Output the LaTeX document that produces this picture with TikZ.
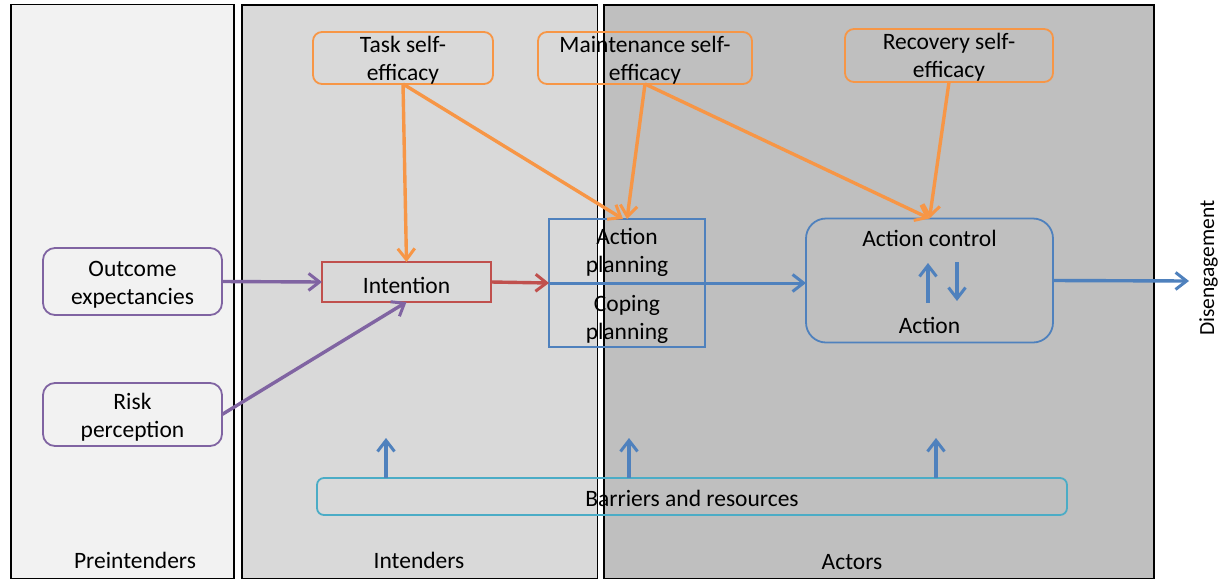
\documentclass[tikz,border=0pt]{standalone}
\usepackage{fontspec}
\setmainfont{Carlito}
\usetikzlibrary{arrows.meta}
\definecolor{orng}{HTML}{F79646}
\definecolor{purp}{HTML}{8064A2}
\definecolor{redd}{HTML}{C0504D}
\definecolor{blu}{HTML}{4F81BD}
\definecolor{cyn}{HTML}{4BACC6}
\definecolor{panA}{HTML}{F2F2F2}
\definecolor{panB}{HTML}{D9D9D9}
\definecolor{panC}{HTML}{BFBFBF}
\tikzset{
  panel/.style={draw=black, line width=1.5pt},
  box/.style={draw, line width=1.8pt, inner sep=0pt, outer sep=0pt},
  rbox/.style={box, rounded corners=9pt},
  lbl/.style={inner sep=0pt, align=center, font=\fontsize{23.5}{28}\selectfont},
  arr/.style={line width=3.4pt, -{Straight Barb[length=11pt,width=17pt,line width=3pt]}},
}
\begin{document}
\begin{tikzpicture}[x=1pt,y=-1pt]
\useasboundingbox (0,0) rectangle (1219,579);
\fill[white] (0,0) rectangle (1219,579);
% panels
\fill[panA] (11,4.5) rectangle (234,578.5);
\draw[panel] (11,4.5) rectangle (234,578.5);
\fill[panB] (242,5) rectangle (597.5,578.5);
\draw[panel] (242,5) rectangle (597.5,578.5);
\fill[panC] (604,5) rectangle (1154,578.5);
\draw[panel] (604,5) rectangle (1154,578.5);
\node[lbl] (pre) at (135,560.5) {Preintenders};
\node[lbl] (int) at (419,560.5) {Intenders};
\node[lbl] (act) at (852,562.5) {Actors};
% boxes
\node[rbox, draw=orng, minimum width=180pt, minimum height=52pt] (task) at (403,58) {};
\node[lbl] (taskt) at (403,60.5) {Task self-\\efficacy};
\node[rbox, draw=orng, minimum width=214pt, minimum height=52pt] (maint) at (645,58) {};
\node[lbl] (maintt) at (645,60.5) {Maintenance self-\\efficacy};
\node[rbox, draw=orng, minimum width=208pt, minimum height=53pt] (recov) at (949,55.5) {};
\node[lbl] (recovt) at (949,57.5) {Recovery self-\\efficacy};
\node[rbox, draw=purp, rounded corners=12pt, minimum width=179pt, minimum height=67pt] (outc) at (132.5,281.5) {};
\node[lbl] (outct) at (132.5,284.5) {Outcome\\expectancies};
\node[rbox, draw=purp, rounded corners=12pt, minimum width=179pt, minimum height=63pt] (risk) at (132.5,414.5) {};
\node[lbl] (riskt) at (132.5,417.5) {Risk\\perception};
\node[box, draw=redd, minimum width=169pt, minimum height=40pt] (intent) at (406.5,282) {};
\node[lbl] (intentt) at (406.5,285.5) {Intention};
\node[box, draw=blu, minimum width=156pt, minimum height=128pt] (plan) at (627,283) {};
\node[lbl] (plant) at (627,252.5) {Action\\planning};
\node[lbl] (copet) at (627,319.5) {Coping\\planning};
\node[rbox, draw=blu, rounded corners=20pt, minimum width=247pt, minimum height=124pt] (actc) at (929.5,280.5) {};
\node[lbl] (actct) at (929.5,238.5) {Action control};
\node[lbl] (actt) at (929.5,325.5) {Action};
\node[rbox, draw=cyn, rounded corners=7pt, minimum width=750pt, minimum height=37pt] (barr) at (692,496.5) {};
\node[lbl] (barrt) at (692,498.5) {Barriers and resources};
\node[lbl, font=\fontsize{21.5}{25}\selectfont, rotate=90, anchor=base east] (dist) at (1214,200) {Disengagement};
\coordinate (dis) at (1189,281);
% inner arrows
\coordinate (u1) at (928,303);
\coordinate (u2) at (928,263);
\coordinate (d1) at (957,262);
\coordinate (d2) at (957,301);
\coordinate (b1) at (386,438);
\coordinate (b2) at (629,438);
\coordinate (b3) at (936,438);
% connectors
\draw[arr, purp] (outc.east) -- (intent.west);
\draw[arr, purp] (risk.east) -- (intent.south);
\draw[arr, orng] (task.south) -- (intent.north);
\draw[arr, orng] (task.south) -- ([xshift=-4pt]plan.north);
\draw[arr, orng] (maint.south) -- (plan.north);
\draw[arr, orng] (maint.south) -- (actc.north);
\draw[arr, orng] (recov.south) -- (actc.north);
\draw[arr, redd] (intent.east) -- (plan.west);
\draw[arr, blu, line width=3pt] (plan.west) -- (plan.west -| actc.west);
\draw[arr, blu] (actc.east) -- (dis);
\draw[arr, blu] (u1) -- (u2);
\draw[arr, blu] (d1) -- (d2);
\draw[arr, blu] (barr.north -| b1) -- (b1);
\draw[arr, blu] (barr.north -| b2) -- (b2);
\draw[arr, blu] (barr.north -| b3) -- (b3);
\end{tikzpicture}
\end{document}
